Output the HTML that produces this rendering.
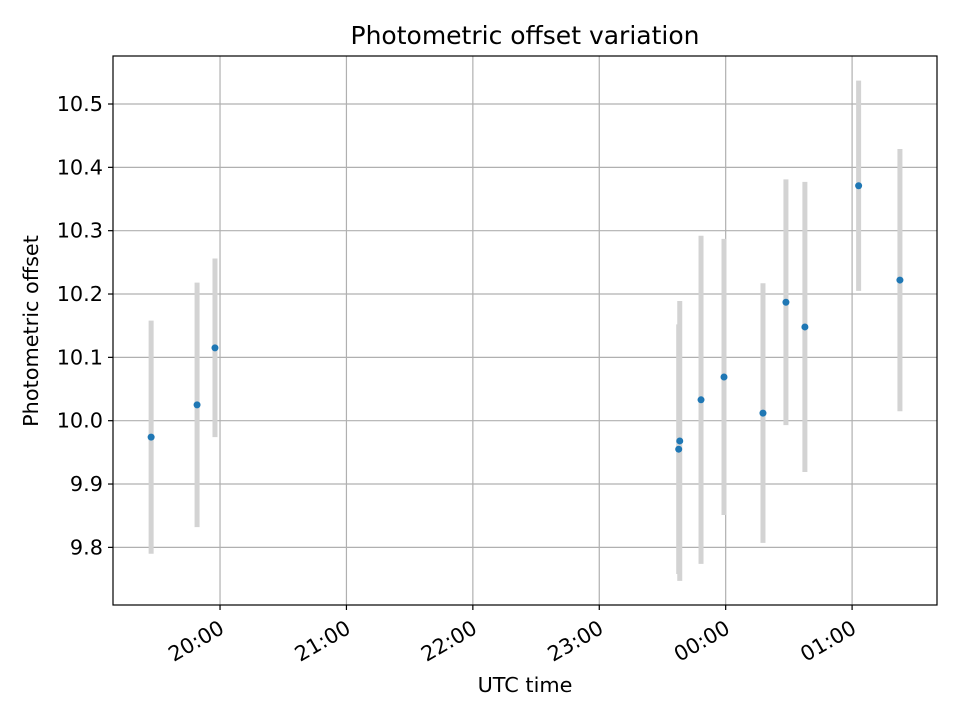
<!DOCTYPE html>
<html><head><meta charset="utf-8"><style>
html,body{margin:0;padding:0;background:#fff;}
svg{display:block;font-family:"DejaVu Sans","Liberation Sans",sans-serif;}
</style></head><body>
<svg id="chart" width="960" height="720" viewBox="0 0 960 720" xmlns="http://www.w3.org/2000/svg">
<rect width="960" height="720" fill="#fff"/>
<g id="grid"></g>
<g id="errs"></g>
<g id="pts"></g>
<g id="axes"></g>
<text x="525" y="44" font-size="25" text-anchor="middle" fill="#000">Photometric offset variation</text>
<text x="525" y="692" font-size="20.8" text-anchor="middle" fill="#000">UTC time</text>
<text transform="translate(38,331) rotate(-90)" font-size="20.8" text-anchor="middle" fill="#000">Photometric offset</text>
</svg>
<script>
// minutes relative to 20:00 UTC
const times = [-32.7, -10.9, -2.4, 218.2, 217.7, 228.3, 239.2, 257.7, 268.6, 277.6, 303.1, 322.7];
const offsets = [9.974, 10.025, 10.115, 9.968, 9.955, 10.033, 10.069, 10.012, 10.187, 10.148, 10.371, 10.222];
const errors = [0.184, 0.193, 0.141, 0.221, 0.197, 0.259, 0.218, 0.205, 0.194, 0.229, 0.166, 0.207];
const xTickMinutes = [0, 60, 120, 180, 240, 300];
const xTickLabels = ["20:00", "21:00", "22:00", "23:00", "00:00", "01:00"];
const yTicks = [9.8, 9.9, 10.0, 10.1, 10.2, 10.3, 10.4, 10.5];

const L=113,R=937,T=56,B=605;
const xMin=-50.8,xMax=340.3,yMin=9.709,yMax=10.5758;
const sx=v=>L+(v-xMin)/(xMax-xMin)*(R-L);
const sy=v=>B-(v-yMin)/(yMax-yMin)*(B-T);
const NS="http://www.w3.org/2000/svg";
function mk(tag,parent,attrs){const e=document.createElementNS(NS,tag);for(const k in attrs)e.setAttribute(k,attrs[k]);parent.appendChild(e);return e;}
const grid=document.getElementById('grid'),errs=document.getElementById('errs'),pts=document.getElementById('pts'),axes=document.getElementById('axes');

xTickMinutes.forEach((m,i)=>{
  const x=sx(m);
  const g=mk('line',grid,{x1:x,x2:x,y1:T,y2:B,stroke:'#b0b0b0','stroke-width':1.2});
  
  
  const t=mk('line',axes,{x1:x,x2:x,y1:B,y2:B+5,stroke:'#000','stroke-width':1.2});
  
  
  const lb=mk('text',axes,{transform:`translate(${x-2},${B+14}) rotate(-30)`,'font-size':20.8,'text-anchor':'end','dominant-baseline':'hanging',fill:'#000'});
  lb.textContent=xTickLabels[i];
  
  
});
yTicks.forEach(v=>{
  const y=sy(v);
  const g=mk('line',grid,{x1:L,x2:R,y1:y,y2:y,stroke:'#b0b0b0','stroke-width':1.2});
  
  
  const t=mk('line',axes,{x1:L-5,x2:L,y1:y,y2:y,stroke:'#000','stroke-width':1.2});
  
  
  const lb=mk('text',axes,{x:L-10,y:y+7,'font-size':20.8,'text-anchor':'end',fill:'#000'});
  lb.textContent=v.toFixed(1);
  
  
});
times.forEach((m,i)=>{
  const x=sx(m);
  const e=mk('line',errs,{x1:x,x2:x,y1:sy(offsets[i]-errors[i]),y2:sy(offsets[i]+errors[i]),stroke:'#d3d3d3','stroke-width':5});
  
  
  const c=mk('circle',pts,{cx:x,cy:sy(offsets[i]),r:3.5,fill:'#1f77b4'});
  
  
});
const fr=mk('rect',axes,{x:L,y:T,width:R-L,height:B-T,fill:'none',stroke:'#000','stroke-width':1.2});


</script>
</body></html>
